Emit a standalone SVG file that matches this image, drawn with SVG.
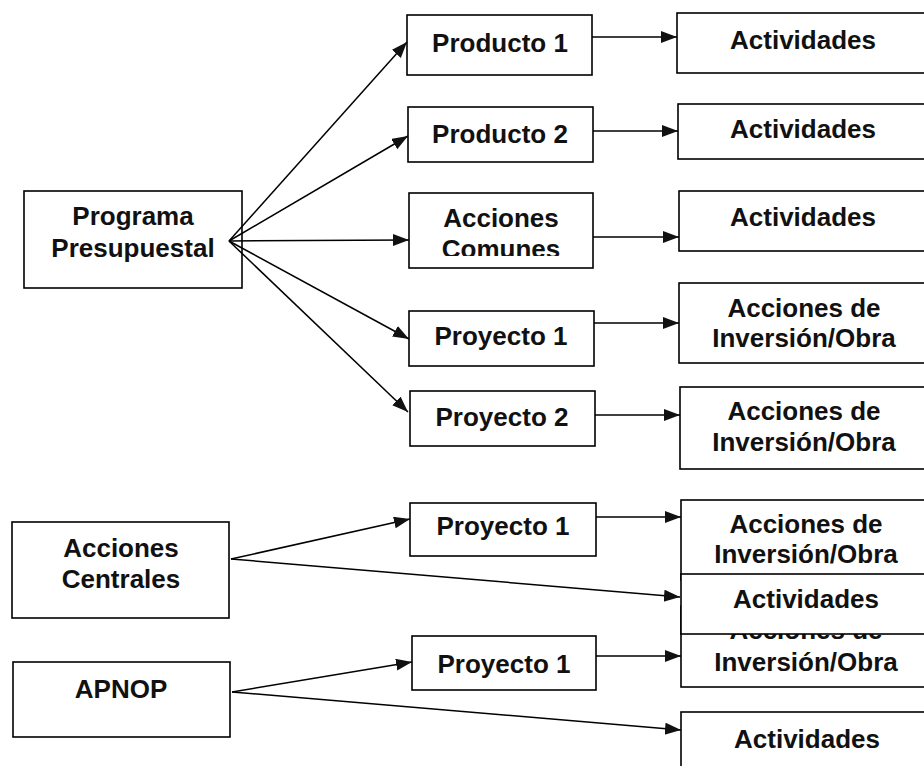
<svg xmlns="http://www.w3.org/2000/svg" width="924" height="766" viewBox="0 0 924 766">
<style>
.box{fill:#fff;stroke:#000;stroke-width:1.6}
.t{font-family:"Liberation Sans",Arial,sans-serif;font-weight:bold;font-size:26px;fill:#111;text-anchor:middle}
.c{fill:none;stroke:#000;stroke-width:1.5}
</style>
<defs>
<marker id="ah" markerUnits="userSpaceOnUse" markerWidth="17" markerHeight="13" refX="16" refY="6" orient="auto">
<path d="M0,0 L16,6 L0,12 z" fill="#111"/>
</marker>
<clipPath id="clipCom"><rect x="409" y="193" width="184" height="63"/></clipPath>
</defs>
<rect width="924" height="766" fill="#fff"/>

<g id="programa">
<rect class="box" x="24" y="191" width="218" height="97"/>
<text class="t" x="133" y="225">Programa</text>
<text class="t" x="133" y="257">Presupuestal</text>
</g>
<g id="producto1">
<rect class="box" x="407" y="15" width="185" height="60"/>
<text class="t" x="500" y="52">Producto 1</text>
</g>
<g id="producto2">
<rect class="box" x="408" y="107" width="185" height="55"/>
<text class="t" x="500" y="143">Producto 2</text>
</g>
<g id="acciones-comunes">
<rect class="box" x="409" y="193" width="184" height="75"/>
<g clip-path="url(#clipCom)">
<text class="t" x="501" y="227">Acciones</text>
<text class="t" x="501" y="258">Comunes</text>
</g>
</g>
<g id="proyecto1a">
<rect class="box" x="409" y="311" width="185" height="55"/>
<text class="t" x="501" y="345">Proyecto 1</text>
</g>
<g id="proyecto2">
<rect class="box" x="410" y="391" width="185" height="55"/>
<text class="t" x="502" y="426">Proyecto 2</text>
</g>

<g id="actividades1">
<rect class="box" x="677" y="13" width="260" height="60"/>
<text class="t" x="803" y="49">Actividades</text>
</g>
<g id="actividades2">
<rect class="box" x="678" y="104" width="260" height="55"/>
<text class="t" x="803" y="138">Actividades</text>
</g>
<g id="actividades3">
<rect class="box" x="679" y="191" width="260" height="60"/>
<text class="t" x="803" y="226">Actividades</text>
</g>
<g id="inversion1">
<rect class="box" x="679" y="283" width="260" height="80"/>
<text class="t" x="804" y="317">Acciones de</text>
<text class="t" x="804" y="347">Inversión/Obra</text>
</g>
<g id="inversion2">
<rect class="box" x="680" y="387" width="260" height="82"/>
<text class="t" x="804" y="420">Acciones de</text>
<text class="t" x="804" y="451">Inversión/Obra</text>
</g>

<g id="acciones-centrales">
<rect class="box" x="12" y="522" width="217" height="96"/>
<text class="t" x="121" y="557">Acciones</text>
<text class="t" x="121" y="588">Centrales</text>
</g>
<g id="proyecto1b">
<rect class="box" x="410" y="503" width="186" height="53"/>
<text class="t" x="503" y="535">Proyecto 1</text>
</g>
<g id="inversion3">
<rect class="box" x="681" y="500" width="260" height="80"/>
<text class="t" x="806" y="533">Acciones de</text>
<text class="t" x="806" y="563">Inversión/Obra</text>
</g>
<g id="inversion4">
<rect class="box" x="681" y="606" width="260" height="81"/>
<text class="t" x="806" y="639">Acciones de</text>
<text class="t" x="806" y="671">Inversión/Obra</text>
</g>
<g id="actividades4">
<rect class="box" x="681" y="574" width="260" height="60"/>
<text class="t" x="806" y="608">Actividades</text>
</g>
<g id="apnop">
<rect class="box" x="13" y="662" width="217" height="75"/>
<text class="t" x="121" y="698">APNOP</text>
</g>
<g id="proyecto1c">
<rect class="box" x="412" y="636" width="184" height="54"/>
<text class="t" x="504" y="673">Proyecto 1</text>
</g>
<g id="actividades5">
<rect class="box" x="681" y="712" width="260" height="70"/>
<text class="t" x="807" y="748">Actividades</text>
</g>

<g id="connectors">
<line class="c" x1="229" y1="241" x2="407" y2="42" marker-end="url(#ah)"/>
<line class="c" x1="229" y1="241" x2="408" y2="136" marker-end="url(#ah)"/>
<line class="c" x1="229" y1="241" x2="409" y2="240" marker-end="url(#ah)"/>
<line class="c" x1="229" y1="241" x2="409" y2="339" marker-end="url(#ah)"/>
<line class="c" x1="229" y1="241" x2="408" y2="412" marker-end="url(#ah)"/>
<line class="c" x1="592" y1="37" x2="677" y2="37" marker-end="url(#ah)"/>
<line class="c" x1="593" y1="131" x2="678" y2="131" marker-end="url(#ah)"/>
<line class="c" x1="593" y1="237" x2="679" y2="237" marker-end="url(#ah)"/>
<line class="c" x1="594" y1="323" x2="679" y2="323" marker-end="url(#ah)"/>
<line class="c" x1="595" y1="415" x2="680" y2="415" marker-end="url(#ah)"/>
<line class="c" x1="231" y1="559" x2="410" y2="519" marker-end="url(#ah)"/>
<line class="c" x1="231" y1="559" x2="680" y2="597" marker-end="url(#ah)"/>
<line class="c" x1="596" y1="517" x2="681" y2="517" marker-end="url(#ah)"/>
<line class="c" x1="232" y1="692" x2="412" y2="662" marker-end="url(#ah)"/>
<line class="c" x1="232" y1="692" x2="681" y2="730" marker-end="url(#ah)"/>
<line class="c" x1="596" y1="656" x2="681" y2="656" marker-end="url(#ah)"/>
</g>
</svg>
